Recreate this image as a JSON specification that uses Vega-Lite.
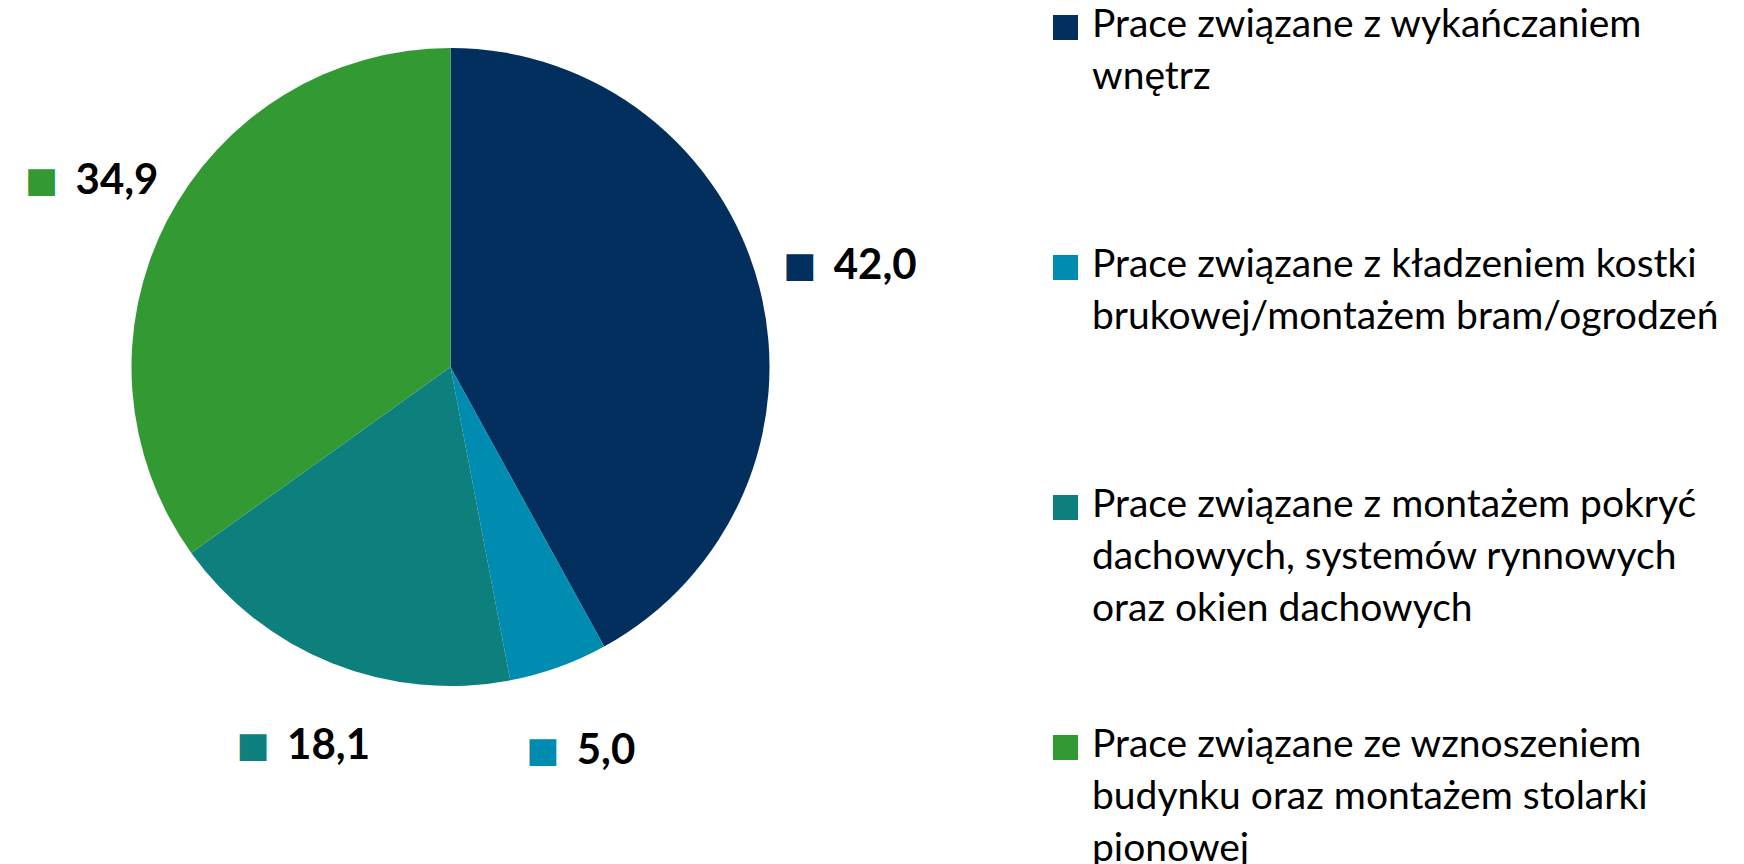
{
  "$schema": "https://vega.github.io/schema/vega-lite/v6.json",
  "autosize": {"type": "none"},
  "padding": {"left": 0, "top": 0, "right": 843, "bottom": 130},
  "width": 901,
  "height": 734,
  "background": "white",
  "config": {
    "view": {"stroke": null},
    "locale": {"number": {"decimal": ",", "thousands": " ", "grouping": [3], "currency": ["", " zł"]}}
  },
  "data": {
    "values": [
      {"kategoria": "Prace związane z wykańczaniem\nwnętrz", "value": 42.0, "order": 1},
      {"kategoria": "Prace związane z kładzeniem kostki\nbrukowej/montażem bram/ogrodzeń", "value": 5.0, "order": 2},
      {"kategoria": "Prace związane z montażem pokryć\ndachowych, systemów rynnowych\noraz okien dachowych", "value": 18.1, "order": 3},
      {"kategoria": "Prace związane ze wznoszeniem\nbudynku oraz montażem stolarki\npionowej", "value": 34.9, "order": 4}
    ]
  },
  "encoding": {
    "theta": {"field": "value", "type": "quantitative", "stack": true},
    "order": {"field": "order", "type": "quantitative"},
    "color": {
      "field": "kategoria",
      "type": "nominal",
      "scale": {
        "domain": [
          "Prace związane z wykańczaniem\nwnętrz",
          "Prace związane z kładzeniem kostki\nbrukowej/montażem bram/ogrodzeń",
          "Prace związane z montażem pokryć\ndachowych, systemów rynnowych\noraz okien dachowych",
          "Prace związane ze wznoszeniem\nbudynku oraz montażem stolarki\npionowej"
        ],
        "range": ["#022F5E", "#008BB0", "#0D7F7D", "#339933"]
      },
      "legend": {
        "title": null,
        "orient": "none",
        "legendX": 1046,
        "legendY": 8,
        "padding": 0,
        "symbolType": "square",
        "symbolSize": 625,
        "symbolStrokeWidth": 0,
        "labelFont": "Lato",
        "labelFontSize": 39,
        "labelColor": "black",
        "labelLimit": 1000,
        "labelOffset": 7,
        "labelBaseline": "top",
        "labelExpr": "split(datum.label, '\\n')",
        "gridAlign": "all",
        "rowPadding": 96,
        "encode": {"labels": {"update": {"lineHeight": {"value": 52}, "dy": {"value": -22}}}}
      }
    }
  },
  "layer": [
    {"mark": {"type": "arc", "outerRadius": 319}},
    {
      "mark": {"type": "text", "radius": 408, "font": "DejaVu Sans", "fontSize": 35, "align": "center", "dx": -46, "baseline": "middle"},
      "encoding": {"text": {"value": "■"}}
    },
    {
      "mark": {"type": "text", "radius": 408, "font": "Lato", "fontWeight": "bold", "fontSize": 42, "align": "left", "dx": -12, "baseline": "middle"},
      "encoding": {"text": {"field": "value", "type": "quantitative", "format": ".1f"}, "color": {"value": "black"}}
    }
  ]
}
